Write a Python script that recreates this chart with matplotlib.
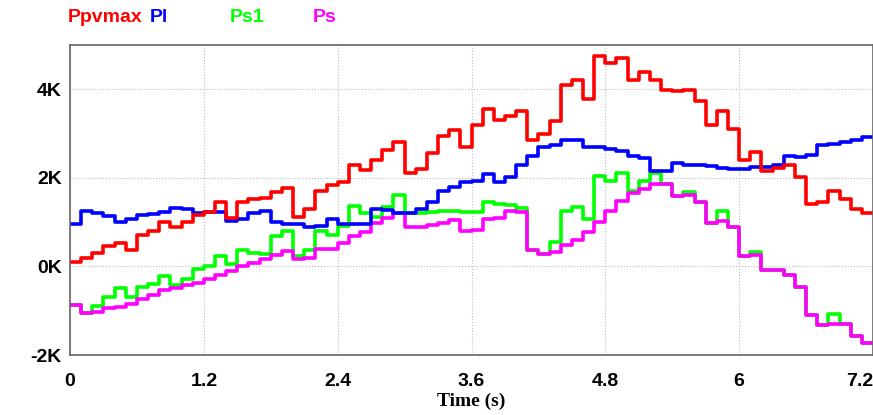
import numpy as np
import matplotlib
matplotlib.use("Agg")
import matplotlib.pyplot as plt
from matplotlib.ticker import FuncFormatter

t = np.round(np.arange(73) * 0.1, 2)
ppvmax = [0.1,0.2,0.3,0.46,0.52,0.37,0.72,0.81,1.0,0.89,1.0,1.15,1.24,1.46,1.1,1.45,1.53,1.55,1.68,1.77,1.11,1.29,1.71,1.83,1.91,2.3,2.17,2.41,2.64,2.8,2.1,2.21,2.55,2.95,3.07,2.7,
          3.2,3.56,3.3,3.39,3.5,2.86,2.99,3.29,4.1,4.2,3.78,4.76,4.59,4.71,4.2,4.38,4.2,3.99,3.95,3.98,3.74,3.2,3.5,3.1,2.4,2.59,2.15,2.22,2.3,2.02,1.41,1.45,1.7,1.53,1.3,1.21]
pl = [0.96,1.25,1.2,1.14,1.0,1.06,1.16,1.19,1.23,1.32,1.29,1.21,1.23,1.23,1.02,1.08,1.21,1.25,1.0,0.95,0.95,0.89,0.91,1.08,0.95,0.95,0.95,1.29,1.27,1.21,1.2,1.3,1.45,1.7,1.79,1.9,
      1.92,2.09,1.9,2.02,2.3,2.49,2.7,2.75,2.85,2.85,2.7,2.7,2.66,2.6,2.5,2.45,2.15,2.15,2.34,2.3,2.29,2.26,2.23,2.2,2.2,2.24,2.24,2.28,2.49,2.47,2.51,2.75,2.77,2.8,2.86,2.92]
ps1 = [-0.87,-1.06,-0.9,-0.68,-0.48,-0.68,-0.46,-0.39,-0.22,-0.43,-0.29,-0.05,0.02,0.23,0.05,0.37,0.31,0.27,0.68,0.81,0.23,0.38,0.81,0.72,0.92,1.36,1.21,1.11,1.34,1.62,1.2,1.2,1.23,1.25,1.25,1.23,
       1.23,1.45,1.41,1.38,1.32,0.38,0.29,0.55,1.25,1.35,1.08,2.05,1.94,2.1,1.7,1.92,2.11,1.85,1.6,1.68,1.45,0.97,1.25,0.89,0.23,0.32,-0.09,-0.09,-0.2,-0.47,-1.1,-1.33,-1.08,-1.29,-1.56,-1.74]
ps = [-0.87,-1.06,-1.03,-0.93,-0.91,-0.84,-0.73,-0.65,-0.54,-0.48,-0.43,-0.37,-0.29,-0.2,-0.1,0,0.08,0.16,0.25,0.35,0.17,0.2,0.4,0.4,0.53,0.68,0.78,0.98,1.1,1.2,0.89,0.89,0.93,0.98,1.05,0.81,
      0.82,1.06,1.1,1.25,1.23,0.38,0.29,0.32,0.48,0.59,0.77,1.0,1.26,1.47,1.66,1.74,1.85,1.85,1.6,1.62,1.45,0.97,1.02,0.89,0.23,0.25,-0.09,-0.09,-0.2,-0.47,-1.1,-1.33,-1.29,-1.29,-1.56,-1.74]

series = [("Ps1", ps1, "#00ff00"), ("Ps", ps, "#ff00ff"), ("Pl", pl, "#0000ff"), ("Ppvmax", ppvmax, "#ff0000")]

plt.rcParams['font.family'] = ['Liberation Sans', 'DejaVu Sans']
fig = plt.figure(figsize=(8.73, 4.15), dpi=100)
ax = fig.add_axes([70/873, 60/415, 803/873, 310/415])
for name, v, c in series:
    y = np.array(v + [v[-1]]) * 1000
    ax.step(t, y, where='post', color=c, lw=2.6)

ax.set_xlim(0, 7.2)
ax.set_ylim(-2000, 5000)
ax.set_xticks([0, 1.2, 2.4, 3.6, 4.8, 6, 7.2])
ax.set_xticklabels(["0", "1.2", "2.4", "3.6", "4.8", "6", "7.2"])
ax.set_yticks([-2000, 0, 2000, 4000])
ax.yaxis.set_major_formatter(FuncFormatter(lambda v, p: f"{int(v/1000)}K"))
ax.grid(True, color="#bbbbbb", ls=":", lw=0.8)
for s in ax.spines.values():
    s.set_color("#666666"); s.set_linewidth(1.2)
ax.tick_params(length=0, labelsize=14)
ax.tick_params(axis='x', pad=13)
ax.tick_params(axis='y', pad=6)
for lab in ax.get_xticklabels() + ax.get_yticklabels():
    lab.set_fontweight('bold')
ax.get_xticklabels()[-1].set_horizontalalignment('right')
ax.set_xlabel("Time (s)", fontsize=14, fontweight='bold', labelpad=2, family=['Liberation Serif'])

for name, x, c in [("Ppvmax", 68, "#ff0000"), ("Pl", 150, "#0000ff"), ("Ps1", 230, "#00ff00"), ("Ps", 313, "#ff00ff")]:
    fig.text(x/873, 1 - 18/415, name, color=c, fontsize=14, fontweight='bold', va='center', ha='left')

fig.savefig("out.png", dpi=100)
